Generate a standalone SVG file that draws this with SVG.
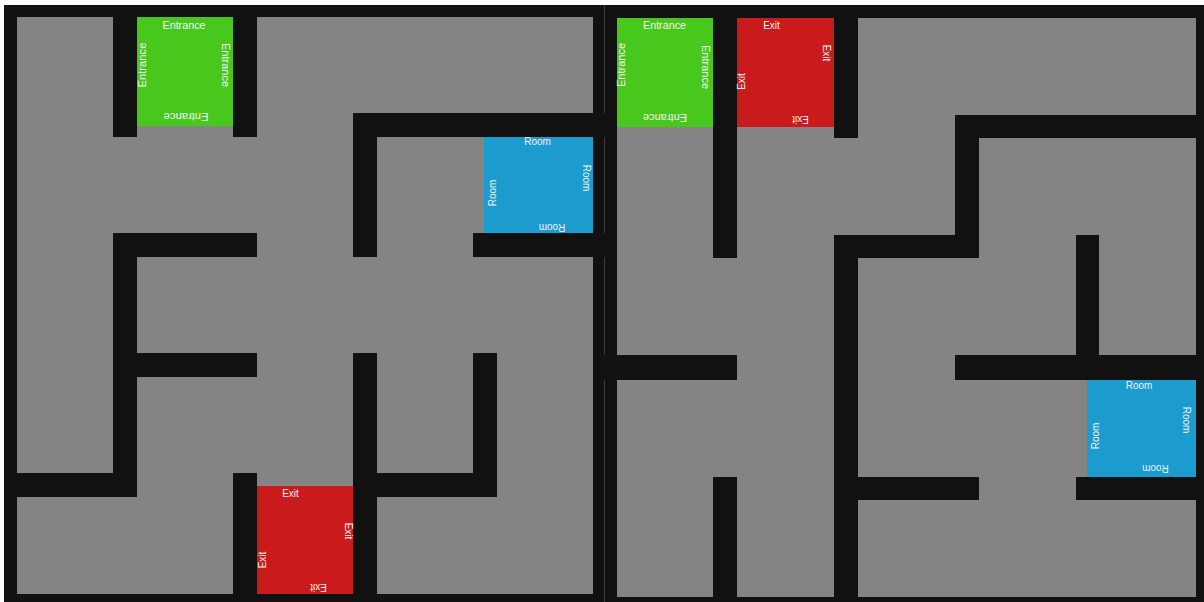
<svg xmlns="http://www.w3.org/2000/svg" width="1204" height="602" viewBox="0 0 1204 602">
<style>
.floor{fill:#848484}
.wall{fill:#111111}
.green{fill:#48c81c}
.red{fill:#c91b1b}
.blue{fill:#1c9bcf}
.lbl{fill:#f2f2f2;font-family:"Liberation Sans","DejaVu Sans",sans-serif;font-size:10px;text-anchor:middle}
</style>
<rect x="0" y="0" width="1204" height="602" fill="#ffffff"/>
<rect x="4" y="5" width="1200" height="597" class="wall"/>
<line x1="604.5" y1="5" x2="604.5" y2="602" stroke="#3a3a3a" stroke-width="1"/>

<g id="maze-left">
<rect x="17" y="17" width="576" height="577" class="floor"/>
<g id="walls-left">
<rect x="113" y="5" width="24" height="132" class="wall"/>
<rect x="233" y="5" width="24" height="132" class="wall"/>
<rect x="353" y="113" width="252" height="24" class="wall"/>
<rect x="353" y="113" width="24" height="144" class="wall"/>
<rect x="473" y="233" width="132" height="24" class="wall"/>
<rect x="113" y="233" width="144" height="24" class="wall"/>
<rect x="113" y="233" width="24" height="264" class="wall"/>
<rect x="113" y="353" width="144" height="24" class="wall"/>
<rect x="4" y="473" width="133" height="24" class="wall"/>
<rect x="233" y="473" width="24" height="129" class="wall"/>
<rect x="353" y="353" width="24" height="249" class="wall"/>
<rect x="353" y="473" width="144" height="24" class="wall"/>
<rect x="473" y="353" width="24" height="144" class="wall"/>
</g>
<g id="entrance-left">
<rect x="137" y="17" width="96" height="109" class="green"/>
<text class="lbl" x="184" y="29" textLength="43" lengthAdjust="spacingAndGlyphs">Entrance</text>
<text class="lbl" transform="translate(222,65) rotate(90)" textLength="44" lengthAdjust="spacingAndGlyphs">Entrance</text>
<text class="lbl" transform="translate(186,113) rotate(180)" textLength="45" lengthAdjust="spacingAndGlyphs">Entrance</text>
<text class="lbl" transform="translate(146,65) rotate(-90)" textLength="45" lengthAdjust="spacingAndGlyphs">Entrance</text>
</g>
<g id="room-left">
<rect x="484" y="137" width="109" height="96" class="blue"/>
<text class="lbl" x="537.5" y="145">Room</text>
<text class="lbl" transform="translate(583,178) rotate(90)">Room</text>
<text class="lbl" transform="translate(552,224) rotate(180)">Room</text>
<text class="lbl" transform="translate(496,193) rotate(-90)">Room</text>
</g>
<g id="exit-left">
<rect x="257" y="486" width="96" height="108" class="red"/>
<text class="lbl" x="290.5" y="497">Exit</text>
<text class="lbl" transform="translate(345,531) rotate(90)">Exit</text>
<text class="lbl" transform="translate(318.5,584) rotate(180)">Exit</text>
<text class="lbl" transform="translate(266,560) rotate(-90)">Exit</text>
</g>
</g>

<g id="maze-right">
<rect x="617" y="18" width="579" height="579" class="floor"/>
<g id="walls-right">
<rect x="713" y="5" width="24" height="253" class="wall"/>
<rect x="834" y="5" width="24" height="133" class="wall"/>
<rect x="955" y="115" width="249" height="23" class="wall"/>
<rect x="955" y="115" width="24" height="143" class="wall"/>
<rect x="834" y="235" width="145" height="23" class="wall"/>
<rect x="834" y="235" width="24" height="367" class="wall"/>
<rect x="1076" y="235" width="23" height="145" class="wall"/>
<rect x="955" y="355" width="249" height="25" class="wall"/>
<rect x="1076" y="477" width="128" height="23" class="wall"/>
<rect x="834" y="477" width="145" height="23" class="wall"/>
<rect x="604" y="355" width="133" height="25" class="wall"/>
<rect x="713" y="477" width="24" height="125" class="wall"/>
</g>
<g id="entrance-right">
<rect x="617" y="18" width="96" height="109" class="green"/>
<text class="lbl" x="664.5" y="29" textLength="43" lengthAdjust="spacingAndGlyphs">Entrance</text>
<text class="lbl" transform="translate(702,67) rotate(90)" textLength="44" lengthAdjust="spacingAndGlyphs">Entrance</text>
<text class="lbl" transform="translate(665,114) rotate(180)" textLength="44" lengthAdjust="spacingAndGlyphs">Entrance</text>
<text class="lbl" transform="translate(625,65) rotate(-90)" textLength="44" lengthAdjust="spacingAndGlyphs">Entrance</text>
</g>
<g id="exit-right">
<rect x="737" y="18" width="97" height="109" class="red"/>
<text class="lbl" x="771.5" y="29">Exit</text>
<text class="lbl" transform="translate(823,53) rotate(90)">Exit</text>
<text class="lbl" transform="translate(800.5,116) rotate(180)">Exit</text>
<text class="lbl" transform="translate(745,81.5) rotate(-90)">Exit</text>
</g>
<g id="room-right">
<rect x="1087" y="380" width="109" height="97" class="blue"/>
<text class="lbl" x="1139" y="389">Room</text>
<text class="lbl" transform="translate(1183,420) rotate(90)">Room</text>
<text class="lbl" transform="translate(1155.5,465) rotate(180)">Room</text>
<text class="lbl" transform="translate(1099,436) rotate(-90)">Room</text>
</g>
</g>
</svg>
